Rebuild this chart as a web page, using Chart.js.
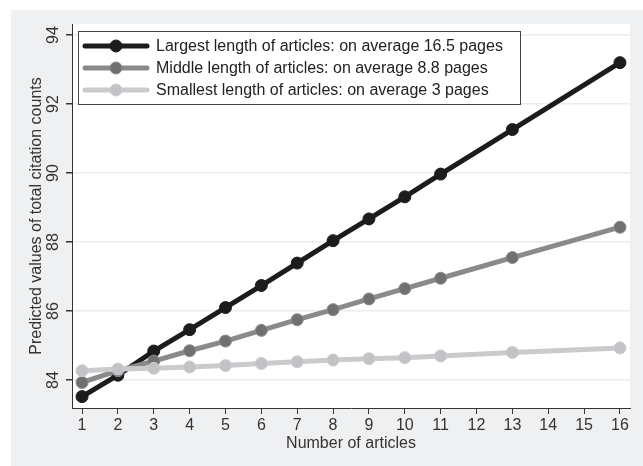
<!DOCTYPE html>
<html>
<head>
<meta charset="utf-8">
<script src="https://cdn.jsdelivr.net/npm/chart.js@4/dist/chart.umd.min.js"></script>
<style>
  html, body { margin: 0; padding: 0; background: #ffffff; }
  #wrap { position: absolute; left: 0; top: 0; width: 643px; height: 466px; }
</style>
</head>
<body>
<div id="wrap"><canvas id="citeChart" width="643" height="466"></canvas></div>
<script>
// articles on the x axis (12, 14, 15 have no point)
const articles = [1, 2, 3, 4, 5, 6, 7, 8, 9, 10, 11, 13, 16];
const largest = [83.52, 84.14, 84.84, 85.46, 86.10, 86.74, 87.39, 88.04, 88.67, 89.31, 89.97, 91.26, 93.20];
const middle = [83.93, 84.27, 84.55, 84.85, 85.13, 85.44, 85.75, 86.04, 86.35, 86.65, 86.95, 87.55, 88.43];
const smallest = [84.27, 84.32, 84.34, 84.38, 84.42, 84.48, 84.53, 84.58, 84.62, 84.65, 84.70, 84.80, 84.93];
const xTicks = [1, 2, 3, 4, 5, 6, 7, 8, 9, 10, 11, 12, 13, 14, 15, 16];
const yTicks = [84, 86, 88, 90, 92, 94];
const seriesLabels = [
    "Largest length of articles: on average 16.5 pages",
    "Middle length of articles: on average 8.8 pages",
    "Smallest length of articles: on average 3 pages"
];

const FONT = "'Liberation Sans', Arial, sans-serif";

function toPoints(ys) {
    return articles.map((x, i) => ({ x: x, y: ys[i] }));
}

// backgrounds: white margin, gray graph region, white plot region
const bgPlugin = {
    id: "bg",
    beforeDraw(chart) {
        const c = chart.ctx, a = chart.chartArea;
        c.save();
        c.fillStyle = "#ffffff";
        c.fillRect(0, 0, chart.width, chart.height);
        c.fillStyle = "#eff0f2";
        c.fillRect(11, 10, chart.width - 11, chart.height - 10);
        c.fillStyle = "#ffffff";
        c.fillRect(a.left, a.top, a.right - a.left, a.bottom - a.top);
        c.restore();
    }
};

// y tick labels rotated, y title, legend box inside the plot
const decoPlugin = {
    id: "deco",
    afterDraw(chart) {
        const c = chart.ctx, y = chart.scales.y, a = chart.chartArea;
        c.save();
        c.fillStyle = "#333333";
        c.font = "16px " + FONT;
        c.textAlign = "center";
        c.textBaseline = "middle";
        yTicks.forEach(v => {
            c.save();
            c.translate(54, y.getPixelForValue(v));
            c.rotate(-Math.PI / 2);
            c.fillText(String(v), 0, 0);
            c.restore();
        });
        c.save();
        c.translate(37, (a.top + a.bottom) / 2);
        c.rotate(-Math.PI / 2);
        c.fillText("Predicted values of total citation counts", 0, 0);
        c.restore();

        // legend (datasets are stored smallest-first so draw them in reverse)
        const lx = 78, ly = 31, lw = 442, lh = 73;
        c.fillStyle = "#ffffff";
        c.fillRect(lx, ly, lw, lh);
        c.strokeStyle = "#444444";
        c.lineWidth = 1;
        c.strokeRect(lx + 0.5, ly + 0.5, lw, lh);
        chart.data.datasets.slice().reverse().forEach((ds, i) => {
            const ry = 46 + i * 22;
            c.strokeStyle = ds.borderColor;
            c.lineWidth = ds.borderWidth;
            c.lineCap = "round";
            c.beginPath();
            c.moveTo(85, ry);
            c.lineTo(147, ry);
            c.stroke();
            c.beginPath();
            c.arc(116, ry, ds.pointRadius, 0, Math.PI * 2);
            c.fillStyle = ds.pointBackgroundColor;
            c.fill();
            c.lineWidth = ds.pointBorderWidth;
            c.strokeStyle = ds.pointBorderColor;
            c.stroke();
            c.fillStyle = "#222222";
            c.textAlign = "left";
            c.font = "16px " + FONT;
            c.fillText(ds.label, 156, ry + 1);
        });
        c.restore();
    }
};

new Chart(document.getElementById("citeChart").getContext("2d"), {
    type: "line",
    data: {
        datasets: [
            {
                label: seriesLabels[0],
                data: toPoints(largest),
                borderColor: "#1c1c1c",
                borderWidth: 5,
                pointRadius: 6,
                pointBackgroundColor: "#1c1c1c",
                pointBorderColor: "#1c1c1c",
                pointBorderWidth: 1
            },
            {
                label: seriesLabels[1],
                data: toPoints(middle),
                borderColor: "#8a8a8a",
                borderWidth: 5,
                pointRadius: 6,
                pointBackgroundColor: "#707070",
                pointBorderColor: "#8a8a8a",
                pointBorderWidth: 1
            },
            {
                label: seriesLabels[2],
                data: toPoints(smallest),
                borderColor: "#cbcbcd",
                borderWidth: 5,
                pointRadius: 6,
                pointBackgroundColor: "#c3c3c7",
                pointBorderColor: "#cbcbcd",
                pointBorderWidth: 1
            }
        ].reverse()
    },
    options: {
        responsive: false,
        animation: false,
        layout: { padding: { left: 0, right: 13, top: 24, bottom: 13 } },
        plugins: { legend: { display: false }, tooltip: { enabled: false } },
        scales: {
            x: {
                type: "linear",
                min: 0.72,
                max: 16.28,
                afterBuildTicks: s => { s.ticks = xTicks.map(v => ({ value: v })); },
                afterFit: s => { s.height = 45; },
                grid: { drawOnChartArea: false, drawTicks: true, tickLength: 6, tickColor: "#333333" },
                border: { color: "#333333", width: 1 },
                ticks: { color: "#333333", font: { family: FONT, size: 16 }, padding: 2, maxRotation: 0 },
                title: { display: true, text: "Number of articles", color: "#333333", font: { family: FONT, size: 16 }, padding: { top: 0, bottom: 0 } }
            },
            y: {
                type: "linear",
                min: 83.19,
                max: 94.32,
                afterBuildTicks: s => { s.ticks = yTicks.map(v => ({ value: v })); },
                afterFit: s => { s.width = 72; },
                grid: { color: "#ececec", lineWidth: 1.5, drawTicks: true, tickLength: 6, tickColor: "#333333" },
                border: { color: "#333333", width: 1 },
                ticks: { display: false }
            }
        }
    },
    plugins: [bgPlugin, decoPlugin]
});
</script>
</body>
</html>
